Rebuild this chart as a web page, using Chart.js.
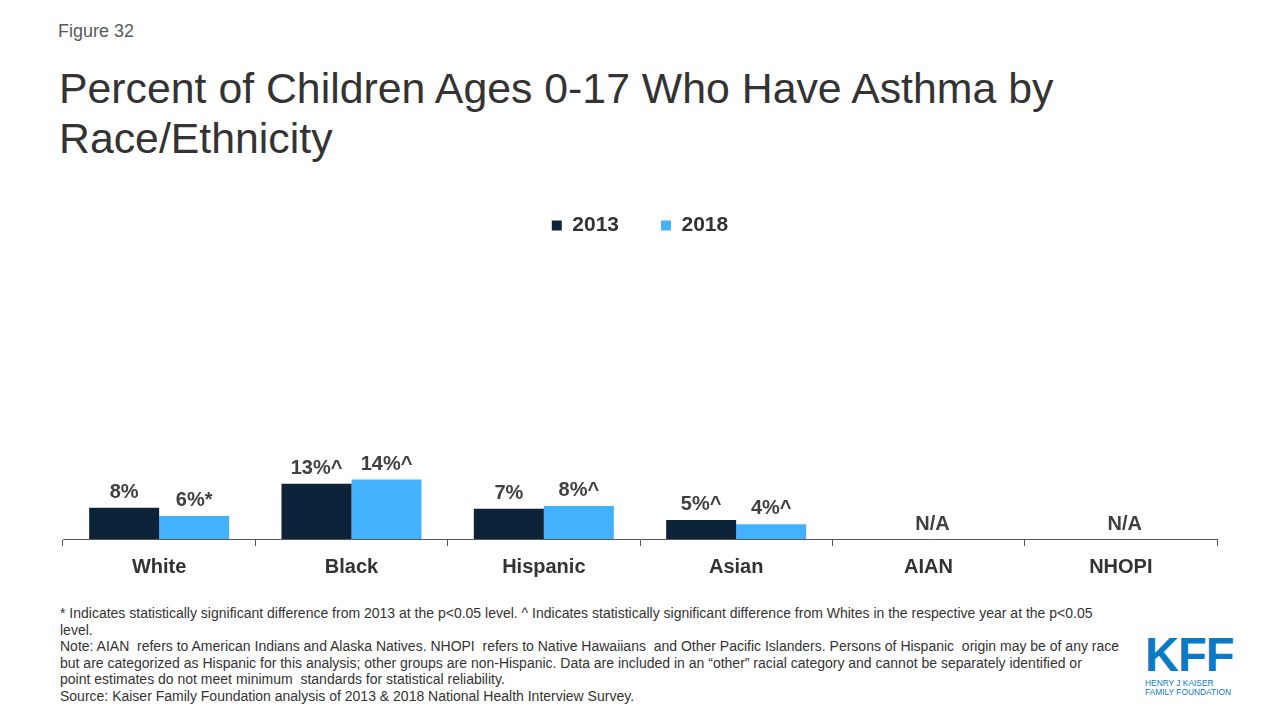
<!DOCTYPE html>
<html>
<head>
<meta charset="utf-8">
<script src="https://cdn.jsdelivr.net/npm/chart.js"></script>
<style>
  body { margin: 0; width: 1280px; height: 720px; background: #fff; font-family: "Liberation Sans", Arial, sans-serif; position: relative; overflow: hidden; }
  #fig { position: absolute; left: 58px; top: 21px; font-size: 18px; color: #595959; }
  #title { position: absolute; left: 59px; top: 63px; font-size: 42.8px; line-height: 50px; color: #333; }
  #chartWrap { position: absolute; left: 0; top: 173px; width: 1280px; height: 415px; }
  #notes { position: absolute; left: 60px; top: 605px; font-size: 14px; line-height: 16.6px; color: #333; white-space: pre; }
  #logo { position: absolute; left: 1145px; top: 632px; color: #0b79c4; }
  #logo .k { font-size: 48px; font-weight: bold; letter-spacing: -1px; line-height: 46px; transform: scaleX(0.98); transform-origin: left; }
  #logo .s { font-size: 9px; line-height: 9px; margin-top: 1px; transform: scaleX(0.93); transform-origin: left; }
</style>
</head>
<body>
<div id="fig">Figure 32</div>
<div id="title">Percent of Children Ages 0-17 Who Have Asthma by<br>Race/Ethnicity</div>
<div id="chartWrap"><canvas id="myChart"></canvas></div>
<div id="notes">* Indicates statistically significant difference from 2013 at the p&lt;0.05 level. ^ Indicates statistically significant difference from Whites in the respective year at the p&lt;0.05
level.
Note: AIAN  refers to American Indians and Alaska Natives. NHOPI  refers to Native Hawaiians  and Other Pacific Islanders. Persons of Hispanic  origin may be of any race
but are categorized as Hispanic for this analysis; other groups are non-Hispanic. Data are included in an “other” racial category and cannot be separately identified or
point estimates do not meet minimum  standards for statistical reliability.
Source: Kaiser Family Foundation analysis of 2013 &amp; 2018 National Health Interview Survey.</div>
<div id="logo"><div class="k">KFF</div><div class="s">HENRY J KAISER<br>FAMILY FOUNDATION</div></div>
<script>
// data
const categories = ["White", "Black", "Hispanic", "Asian", "AIAN", "NHOPI"];
const values2013 = [7.6, 13.4, 7.3, 4.6, null, null];
const values2018 = [5.6, 14.4, 8.0, 3.6, null, null];
const labels2013 = ["8%", "13%^", "7%", "5%^", null, null];
const labels2018 = ["6%*", "14%^", "8%^", "4%^", null, null];
const naLabels = [null, null, null, null, "N/A", "N/A"];
const yMax = 71;

const textColor = "#333333";

// draws the value labels above the bars and N/A where there is no data
const barLabels = {
  id: "barLabels",
  afterDatasetsDraw(chart) {
    const c = chart.ctx;
    c.save();
    c.font = "bold 20px 'Liberation Sans', Arial, sans-serif";
    c.fillStyle = "#404040";
    c.textAlign = "center";
    c.textBaseline = "alphabetic";
    const lbls = [labels2013, labels2018];
    chart.data.datasets.forEach((ds, i) => {
      chart.getDatasetMeta(i).data.forEach((bar, j) => {
        if (lbls[i][j]) c.fillText(lbls[i][j], bar.x, bar.y - 10);
      });
    });
    const xs = chart.scales.x;
    const base = chart.scales.y.getPixelForValue(0);
    naLabels.forEach((t, j) => {
      if (t) c.fillText(t, xs.getPixelForValue(j) + 4, base - 9);
    });
    c.restore();
  },
};

const ctx = document.getElementById("myChart").getContext("2d");
const myChart = new Chart(ctx, {
  type: "bar",
  data: {
    labels: categories,
    datasets: [
      { label: "2013", data: values2013, backgroundColor: "#0c2339" },
      { label: "2018", data: values2018, backgroundColor: "#44b1ff" },
    ],
  },
  options: {
    responsive: true,
    maintainAspectRatio: false,
    animation: false,
    layout: { padding: { left: 63, right: 63, top: 0, bottom: 0 } },
    datasets: { bar: { categoryPercentage: 0.728, barPercentage: 1.0 } },
    plugins: {
      legend: {
        position: "top",
        labels: {
          boxWidth: 10,
          boxHeight: 10,
          padding: 42,
          color: textColor,
          font: { family: "'Liberation Sans', Arial, sans-serif", size: 21, weight: "bold" },
        },
      },
      tooltip: { enabled: false },
    },
    scales: {
      x: {
        grid: { offset: true, drawOnChartArea: false, drawTicks: true, tickLength: 7, color: "#595959" },
        border: { display: true, color: "#595959", width: 1 },
        ticks: {
          padding: 9,
          color: textColor,
          font: { family: "'Liberation Sans', Arial, sans-serif", size: 20, weight: "bold" },
        },
      },
      y: { display: false, min: 0, max: yMax },
    },
  },
  plugins: [barLabels],
});
</script>
</body>
</html>
